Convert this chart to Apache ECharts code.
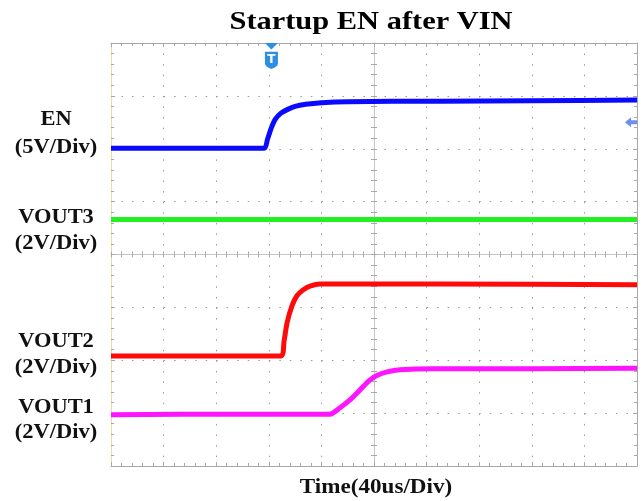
<!DOCTYPE html>
<html><head><meta charset="utf-8">
<script src="https://cdn.jsdelivr.net/npm/echarts@6/dist/echarts.min.js"></script>
<style>html,body{margin:0;padding:0;background:#fff}#c{width:644px;height:501px}</style>
</head><body><div id="c"></div>
<script>
// ---- text ----
const chartTitle = 'Startup EN after VIN';
const timeAxisName = 'Time(40us/Div)';
const channelNames = ['EN', 'VOUT3', 'VOUT2', 'VOUT1'];
const channelScales = ['(5V/Div)', '(2V/Div)', '(2V/Div)', '(2V/Div)'];

// ---- axes (time in us, vertical in screen divisions from centre) ----
const timeMin = -200, timeMax = 200, timeStep = 40;
const divMin = -4, divMax = 4, divStep = 1;

// ---- traces (time us, level in divisions) ----
const enTime  = [-200, -140, -83.5, -81, -78, -75, -71, -66, -60, -52, -40, -20, 50, 120, 200];
const enLevel = [2.01, 2.01, 2.01, 2.18, 2.40, 2.56, 2.67, 2.74, 2.80, 2.84, 2.87, 2.89, 2.90, 2.91, 2.92];

const vout3Time  = [-200, -100, 0, 100, 200];
const vout3Level = [0.66, 0.66, 0.66, 0.66, 0.66];

const vout2Time  = [-200, -120, -70.7, -68.4, -66.1, -62.4, -58.6, -54.0, -48.7, -41.0, 50, 200];
const vout2Level = [-1.92, -1.92, -1.92, -1.64, -1.29, -0.97, -0.78, -0.67, -0.60, -0.56, -0.56, -0.57];

const vout1Time  = [-200, -100, -33.5, -25.9, -18.3, -10.6, -3.0, 3.0, 9.9, 19.8, 44.9, 120, 200];
const vout1Level = [-3.03, -3.02, -3.02, -2.90, -2.75, -2.56, -2.37, -2.28, -2.22, -2.18, -2.16, -2.16, -2.15];

const triggerTime = -78;
const enRefLevel = 2.5;

const traceColors = ['#0a0aff', '#22f022', '#ff0a0a', '#ff14ff'];

function zip(t, v) { return t.map((x, i) => [x, v[i]]); }

const gridColor = '#a8a8a8';
function xAx(pos, opts) {
  return Object.assign({
    type: 'value', min: timeMin, max: timeMax, interval: timeStep, position: pos,
    axisLine: { onZero: false, lineStyle: { color: gridColor, width: 1 } },
    axisTick: { show: true, inside: true, length: 4, lineStyle: { color: gridColor } },
    minorTick: { show: true, splitNumber: 5, length: 3, lineStyle: { color: gridColor } },
    axisLabel: { show: false }, splitLine: { show: false }
  }, opts || {});
}
function yAx(pos, opts) {
  return Object.assign({
    type: 'value', min: divMin, max: divMax, interval: divStep, position: pos,
    axisLine: { onZero: false, lineStyle: { color: gridColor, width: 1 } },
    axisTick: { show: true, inside: true, length: 4, lineStyle: { color: gridColor } },
    minorTick: { show: true, splitNumber: 5, length: 3, lineStyle: { color: gridColor } },
    axisLabel: { show: false }, splitLine: { show: false }
  }, opts || {});
}

const xAxes = [
  xAx('bottom', { splitLine: { show: true, lineStyle: { color: '#9a9a9a', type: [1.5, 9.08], width: 1 } } }),
  xAx('top'),
  xAx('bottom', { axisLine: { onZero: true, onZeroAxisIndex: 0, lineStyle: { color: '#c4c4c4' } },
                  axisTick: { show: true, inside: true, length: 3, lineStyle: { color: gridColor } } }),
  xAx('bottom', { axisLine: { onZero: true, onZeroAxisIndex: 0, lineStyle: { color: '#c4c4c4' } },
                  axisTick: { show: true, inside: false, length: 3, lineStyle: { color: gridColor } } })
];
const yAxes = [
  yAx('left', { axisLine: { onZero: false, lineStyle: { color: '#e6df9c', width: 1 } },
                splitLine: { show: true, lineStyle: { color: '#9a9a9a', type: [1.5, 9.02], width: 1 } } }),
  yAx('right'),
  yAx('left', { axisLine: { onZero: true, onZeroAxisIndex: 0, lineStyle: { color: '#c4c4c4' } },
                axisTick: { show: true, inside: true, length: 3, lineStyle: { color: gridColor } } }),
  yAx('left', { axisLine: { onZero: true, onZeroAxisIndex: 0, lineStyle: { color: '#c4c4c4' } },
                axisTick: { show: true, inside: false, length: 3, lineStyle: { color: gridColor } } })
];

function trace(name, t, v, color, extra) {
  return Object.assign({
    name: name, type: 'line', xAxisIndex: 0, yAxisIndex: 0,
    data: zip(t, v), showSymbol: false, symbol: 'none', smooth: 0.25,
    lineStyle: { color: color, width: 5 }, itemStyle: { color: color },
    z: 5
  }, extra || {});
}

const triggerPath = 'path://M0,0 L12,0 L6,6 Z M0,8 L12,8 L12,19 Q12,22 6,24 Q0,22 0,19 Z';
const arrowPath = 'path://M0,5 L6,0 L6,3 L12,3 L12,7 L6,7 L6,10 Z';

const labelFont = 'bold 21px "Liberation Serif", "DejaVu Serif", serif';
const labelY = [[120, 148], [218, 244], [342, 368], [408, 433]];
const graphics = [];
channelNames.forEach((n, i) => {
  graphics.push({ type: 'text', x: 56, y: labelY[i][0], scaleX: 1.07,
    style: { text: n, x: 0, y: 0, textAlign: 'center', textVerticalAlign: 'middle', font: labelFont, fill: '#111' } });
  graphics.push({ type: 'text', x: 56, y: labelY[i][1], scaleX: 1.07,
    style: { text: channelScales[i], x: 0, y: 0, textAlign: 'center', textVerticalAlign: 'middle', font: labelFont, fill: '#111' } });
});
graphics.push({ type: 'text', x: 371, y: 22, scaleX: 1.17,
  style: { text: chartTitle, x: 0, y: 0, textAlign: 'center', textVerticalAlign: 'middle',
    font: 'bold 26px "Liberation Serif", "DejaVu Serif", serif', fill: '#000' } });
graphics.push({ type: 'text', x: 376, y: 488, scaleX: 1.1,
  style: { text: timeAxisName, x: 0, y: 0, textAlign: 'center', textVerticalAlign: 'middle',
    font: 'bold 21px "Liberation Serif", "DejaVu Serif", serif', fill: '#111' } });

const chart = echarts.init(document.getElementById('c'), null, { renderer: 'canvas' });
chart.setOption({
  animation: false,
  backgroundColor: '#ffffff',
  grid: { left: 111, right: 7, top: 43, bottom: 35, containLabel: false },
  xAxis: xAxes,
  yAxis: yAxes,
  series: [
    trace(channelNames[0], enTime, enLevel, traceColors[0], {
      markPoint: {
        silent: true,
        data: [
          { coord: [triggerTime, divMax], symbol: triggerPath, symbolSize: [13, 26], symbolOffset: [0, 13],
            itemStyle: { color: '#2d8fe2' },
            label: { show: true, formatter: 'T', color: '#fff', fontWeight: 'bold', fontSize: 12,
                     fontFamily: 'DejaVu Sans', offset: [0, 4] } },
          { coord: [timeMax, enRefLevel], symbol: arrowPath, symbolSize: [12, 10], symbolOffset: [-6, 0],
            itemStyle: { color: '#6e8ff0' }, label: { show: false } }
        ]
      }
    }),
    trace(channelNames[1], vout3Time, vout3Level, traceColors[1]),
    trace(channelNames[2], vout2Time, vout2Level, traceColors[2]),
    trace(channelNames[3], vout1Time, vout1Level, traceColors[3])
  ],
  graphic: graphics
});
</script>
</body></html>
